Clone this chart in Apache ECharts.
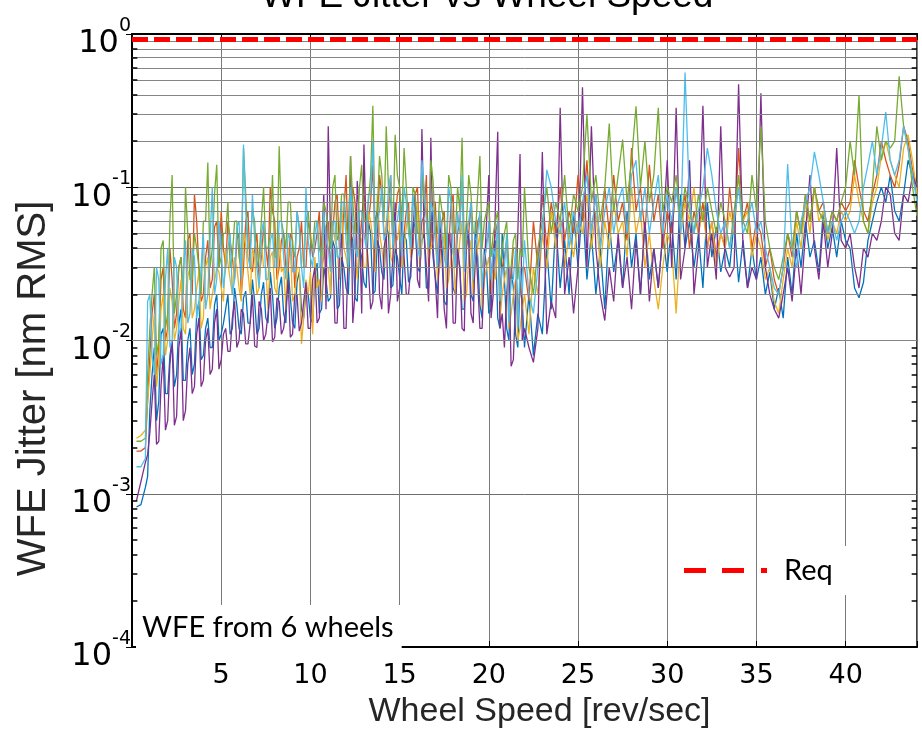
<!DOCTYPE html>
<html>
<head>
<meta charset="utf-8">
<title>WFE Jitter vs Wheel Speed</title>
<script src="https://cdn.jsdelivr.net/npm/echarts@6/dist/echarts.min.js"></script>
<style>
html, body { margin: 0; padding: 0; background: #fff; }
#main { width: 922px; height: 734px; }
</style>
</head>
<body>
<div id="main"></div>
<script>
// wheel speed grid [rev/sec], one sample every 0.25 rev/sec
var speedStep = 0.25;
var speeds = [];
for (var i = 1; i <= 176; i++) speeds.push(i * speedStep);
// extra in-between samples where the curves are densest (0.875 .. 21.875)
var midSpeeds = [];
for (var k = 0; k < 85; k++) midSpeeds.push(0.875 + k * speedStep);

// WFE jitter [nm RMS] per wheel on the main grid
var wheel1 = [ // blue
	0.00082, 0.00085, 0.0011, 0.0035, 0.009, 0.004, 0.012, 0.0045, 0.01, 0.006,
	0.016, 0.0055, 0.012, 0.007, 0.018, 0.008, 0.014, 0.009, 0.02, 0.011,
	0.016, 0.011, 0.022, 0.012, 0.019, 0.013, 0.025, 0.011, 0.02, 0.014,
	0.028, 0.012, 0.022, 0.015, 0.03, 0.013, 0.024, 0.016, 0.021, 0.014,
	0.026, 0.015, 0.03, 0.018, 0.045, 0.016, 0.035, 0.022, 0.05, 0.019,
	0.04, 0.024, 0.06, 0.02, 0.045, 0.028, 0.055, 0.022, 0.04, 0.026,
	0.05, 0.024, 0.06, 0.03, 0.045, 0.022, 0.07, 0.026, 0.04, 0.018,
	0.05, 0.022, 0.035, 0.016, 0.045, 0.02, 0.06, 0.017, 0.04, 0.015,
	0.035, 0.014, 0.05, 0.012, 0.03, 0.011, 0.025, 0.009, 0.02, 0.008,
	0.015, 0.011, 0.04, 0.016, 0.06, 0.022, 0.045, 0.02, 0.07, 0.03,
	0.08, 0.025, 0.05, 0.02, 0.04, 0.016, 0.06, 0.028, 0.045, 0.022,
	0.07, 0.03, 0.05, 0.02, 0.06, 0.025, 0.04, 0.022, 0.05, 0.028,
	0.06, 0.025, 0.09, 0.04, 0.06, 0.03, 0.05, 0.022, 0.08, 0.035,
	0.055, 0.028, 0.04, 0.03, 0.06, 0.024, 0.045, 0.022, 0.04, 0.025,
	0.035, 0.02, 0.028, 0.016, 0.022, 0.014, 0.035, 0.02, 0.05, 0.03,
	0.06, 0.035, 0.045, 0.028, 0.07, 0.04, 0.055, 0.035, 0.06, 0.045,
	0.04, 0.022, 0.019, 0.024, 0.045, 0.06, 0.08, 0.1, 0.08, 0.12,
	0.07, 0.06, 0.09, 0.15, 0.12, 0.09
];
var wheel2 = [ // orange
	0.0019, 0.0019, 0.002, 0.008, 0.02, 0.009, 0.03, 0.012, 0.025, 0.015,
	0.035, 0.014, 0.05, 0.09, 0.03, 0.02, 0.045, 0.025, 0.06, 0.07,
	0.03, 0.045, 0.025, 0.05, 0.03, 0.07, 0.028, 0.05, 0.035, 0.04,
	0.1, 0.06, 0.03, 0.05, 0.028, 0.045, 0.035, 0.06, 0.03, 0.05,
	0.04, 0.07, 0.035, 0.06, 0.05, 0.09, 0.04, 0.12, 0.05, 0.08,
	0.04, 0.1, 0.06, 0.14, 0.05, 0.09, 0.045, 0.12, 0.06, 0.1,
	0.05, 0.08, 0.04, 0.1, 0.06, 0.12, 0.045, 0.08, 0.035, 0.07,
	0.04, 0.09, 0.05, 0.11, 0.04, 0.08, 0.035, 0.065, 0.03, 0.05,
	0.04, 0.06, 0.03, 0.045, 0.025, 0.04, 0.02, 0.03, 0.018, 0.06,
	0.03, 0.09, 0.04, 0.08, 0.05, 0.1, 0.045, 0.07, 0.05, 0.12,
	0.06, 0.15, 0.05, 0.09, 0.04, 0.1, 0.05, 0.12, 0.06, 0.08,
	0.045, 0.18, 0.07, 0.1, 0.05, 0.14, 0.06, 0.09, 0.04, 0.07,
	0.05, 0.1, 0.06, 0.09, 0.04, 0.07, 0.05, 0.08, 0.04, 0.06,
	0.035, 0.05, 0.04, 0.1, 0.05, 0.18, 0.06, 0.08, 0.04, 0.06,
	0.05, 0.03, 0.04, 0.025, 0.02, 0.03, 0.05, 0.035, 0.07, 0.05,
	0.09, 0.06, 0.1, 0.07, 0.08, 0.05, 0.07, 0.06, 0.08, 0.07,
	0.08, 0.15, 0.1, 0.07, 0.06, 0.09, 0.12, 0.2, 0.15, 0.12,
	0.1, 0.14, 0.25, 0.2, 0.13, 0.1
];
var wheel3 = [ // yellow
	0.0023, 0.0024, 0.0026, 0.006, 0.015, 0.007, 0.02, 0.01, 0.018, 0.012,
	0.025, 0.011, 0.03, 0.016, 0.028, 0.014, 0.035, 0.02, 0.03, 0.022,
	0.04, 0.025, 0.035, 0.022, 0.05, 0.028, 0.04, 0.02, 0.045, 0.03,
	0.035, 0.022, 0.05, 0.03, 0.04, 0.018, 0.03, 0.0095, 0.025, 0.028,
	0.035, 0.025, 0.05, 0.03, 0.06, 0.04, 0.08, 0.035, 0.06, 0.04,
	0.05, 0.03, 0.07, 0.045, 0.09, 0.04, 0.06, 0.035, 0.05, 0.06,
	0.04, 0.07, 0.05, 0.08, 0.045, 0.06, 0.04, 0.055, 0.03, 0.05,
	0.025, 0.04, 0.03, 0.06, 0.02, 0.045, 0.03, 0.05, 0.025, 0.035,
	0.03, 0.045, 0.02, 0.03, 0.015, 0.025, 0.012, 0.02, 0.011, 0.03,
	0.02, 0.05, 0.03, 0.07, 0.04, 0.06, 0.03, 0.05, 0.035, 0.06,
	0.05, 0.09, 0.04, 0.07, 0.03, 0.06, 0.04, 0.08, 0.05, 0.06,
	0.035, 0.1, 0.05, 0.07, 0.03, 0.05, 0.025, 0.016, 0.03, 0.05,
	0.04, 0.015, 0.05, 0.08, 0.06, 0.1, 0.05, 0.07, 0.04, 0.06,
	0.03, 0.05, 0.04, 0.07, 0.05, 0.12, 0.06, 0.07, 0.035, 0.05,
	0.04, 0.025, 0.03, 0.018, 0.015, 0.025, 0.04, 0.03, 0.06, 0.04,
	0.08, 0.05, 0.1, 0.06, 0.07, 0.045, 0.06, 0.05, 0.07, 0.06,
	0.07, 0.12, 0.08, 0.06, 0.05, 0.08, 0.1, 0.16, 0.2, 0.15,
	0.12, 0.1, 0.18, 0.22, 0.15, 0.09
];
var wheel4 = [ // purple
	0.0009, 0.0012, 0.0016, 0.0025, 0.006, 0.0022, 0.008, 0.003, 0.01, 0.0032,
	0.012, 0.0035, 0.009, 0.005, 0.014, 0.0055, 0.012, 0.0065, 0.016, 0.0075,
	0.012, 0.0085, 0.018, 0.01, 0.015, 0.0095, 0.02, 0.009, 0.016, 0.011,
	0.022, 0.0105, 0.018, 0.012, 0.025, 0.011, 0.02, 0.013, 0.024, 0.012,
	0.03, 0.014, 0.09, 0.25, 0.04, 0.013, 0.05, 0.012, 0.16, 0.02,
	0.06, 0.19, 0.03, 0.018, 0.07, 0.016, 0.05, 0.02, 0.08, 0.022,
	0.035, 0.02, 0.05, 0.025, 0.24, 0.03, 0.21, 0.025, 0.06, 0.016,
	0.05, 0.013, 0.04, 0.012, 0.06, 0.015, 0.045, 0.012, 0.03, 0.12,
	0.02, 0.23, 0.015, 0.02, 0.0068, 0.018, 0.165, 0.012, 0.009, 0.0072,
	0.012, 0.17, 0.011, 0.018, 0.014, 0.33, 0.02, 0.035, 0.015, 0.03,
	0.45, 0.03, 0.25, 0.04, 0.02, 0.0135, 0.03, 0.018, 0.05, 0.022,
	0.035, 0.016, 0.045, 0.02, 0.06, 0.018, 0.04, 0.022, 0.05, 0.15,
	0.03, 0.33, 0.025, 0.04, 0.15, 0.02, 0.04, 0.34, 0.03, 0.05,
	0.025, 0.25, 0.03, 0.026, 0.03, 0.47, 0.04, 0.022, 0.03, 0.025,
	0.41, 0.03, 0.02, 0.016, 0.014, 0.02, 0.03, 0.018, 0.04, 0.02,
	0.05, 0.12, 0.04, 0.025, 0.06, 0.03, 0.05, 0.18, 0.045, 0.04,
	0.05, 0.03, 0.022, 0.04, 0.035, 0.05, 0.045, 0.06, 0.1, 0.09,
	0.05, 0.045, 0.09, 0.08, 0.12, 0.1
];
var wheel5 = [ // green
	0.0022, 0.0022, 0.0023, 0.012, 0.03, 0.01, 0.045, 0.015, 0.12, 0.02,
	0.035, 0.1, 0.025, 0.05, 0.03, 0.06, 0.145, 0.04, 0.14, 0.035,
	0.05, 0.03, 0.06, 0.035, 0.18, 0.04, 0.07, 0.03, 0.06, 0.04,
	0.05, 0.035, 0.185, 0.05, 0.08, 0.04, 0.07, 0.03, 0.06, 0.045,
	0.06, 0.04, 0.08, 0.05, 0.1, 0.045, 0.09, 0.06, 0.16, 0.05,
	0.1, 0.06, 0.08, 0.34, 0.07, 0.12, 0.25, 0.08, 0.22, 0.1,
	0.18, 0.06, 0.1, 0.05, 0.12, 0.07, 0.15, 0.05, 0.09, 0.06,
	0.12, 0.05, 0.1, 0.21, 0.06, 0.09, 0.05, 0.16, 0.06, 0.08,
	0.05, 0.07, 0.04, 0.06, 0.03, 0.05, 0.04, 0.1, 0.03, 0.02,
	0.04, 0.06, 0.1, 0.05, 0.08, 0.06, 0.12, 0.05, 0.09, 0.07,
	0.1, 0.3, 0.08, 0.12, 0.06, 0.1, 0.26, 0.07, 0.12, 0.205,
	0.08, 0.15, 0.337, 0.1, 0.2, 0.08, 0.12, 0.33, 0.07, 0.1,
	0.08, 0.12, 0.06, 0.1, 0.07, 0.05, 0.09, 0.06, 0.1, 0.07,
	0.05, 0.08, 0.06, 0.04, 0.07, 0.12, 0.06, 0.05, 0.12, 0.07,
	0.25, 0.06, 0.04, 0.03, 0.025, 0.035, 0.05, 0.04, 0.07, 0.05,
	0.09, 0.06, 0.1, 0.07, 0.06, 0.05, 0.07, 0.06, 0.08, 0.1,
	0.2, 0.12, 0.4, 0.06, 0.05, 0.1, 0.25, 0.15, 0.2, 0.18,
	0.2, 0.53, 0.25, 0.18, 0.1, 0.065
];
var wheel6 = [ // cyan
	0.0015, 0.0015, 0.0017, 0.02, 0.006, 0.025, 0.008, 0.04, 0.01, 0.03,
	0.012, 0.045, 0.015, 0.035, 0.018, 0.05, 0.02, 0.1, 0.025, 0.04,
	0.03, 0.05, 0.025, 0.06, 0.19, 0.035, 0.09, 0.03, 0.05, 0.025,
	0.045, 0.03, 0.06, 0.035, 0.05, 0.028, 0.07, 0.03, 0.1, 0.035,
	0.05, 0.03, 0.07, 0.04, 0.06, 0.035, 0.08, 0.045, 0.1, 0.04,
	0.07, 0.05, 0.09, 0.2, 0.06, 0.1, 0.05, 0.12, 0.06, 0.08,
	0.1, 0.05, 0.09, 0.04, 0.15, 0.06, 0.08, 0.045, 0.07, 0.035,
	0.1, 0.04, 0.07, 0.12, 0.05, 0.08, 0.04, 0.07, 0.035, 0.06,
	0.04, 0.06, 0.03, 0.05, 0.025, 0.04, 0.03, 0.045, 0.02, 0.015,
	0.03, 0.05, 0.13, 0.1, 0.06, 0.05, 0.08, 0.04, 0.07, 0.05,
	0.08, 0.12, 0.05, 0.09, 0.04, 0.07, 0.1, 0.05, 0.08, 0.1,
	0.05, 0.12, 0.15, 0.06, 0.1, 0.05, 0.08, 0.12, 0.05, 0.09,
	0.06, 0.1, 0.05, 0.56, 0.08, 0.05, 0.07, 0.1, 0.18, 0.12,
	0.07, 0.05, 0.06, 0.04, 0.06, 0.1, 0.05, 0.06, 0.08, 0.05,
	0.06, 0.04, 0.03, 0.022, 0.02, 0.03, 0.142, 0.04, 0.03, 0.06,
	0.08, 0.1, 0.17, 0.12, 0.08, 0.05, 0.06, 0.045, 0.06, 0.07,
	0.06, 0.05, 0.06, 0.1, 0.14, 0.2, 0.12, 0.18, 0.31, 0.15,
	0.12, 0.15, 0.25, 0.18, 0.12, 0.08
];

// WFE jitter [nm RMS] on the in-between samples
var wheel1Mid = [
	0.0013, 0.006, 0.003, 0.011, 0.0045, 0.008, 0.005, 0.013, 0.0055, 0.01,
	0.006, 0.015, 0.0075, 0.012, 0.009, 0.017, 0.01, 0.013, 0.02, 0.012,
	0.017, 0.011, 0.021, 0.013, 0.018, 0.012, 0.024, 0.013, 0.02, 0.014,
	0.026, 0.013, 0.019, 0.012, 0.028, 0.014, 0.02, 0.013, 0.032, 0.016,
	0.025, 0.019, 0.04, 0.017, 0.03, 0.02, 0.045, 0.018, 0.035, 0.022,
	0.05, 0.021, 0.04, 0.025, 0.05, 0.023, 0.035, 0.02, 0.045, 0.026,
	0.055, 0.028, 0.05, 0.022, 0.035, 0.02, 0.045, 0.017, 0.04, 0.02,
	0.03, 0.016, 0.05, 0.018, 0.035, 0.014, 0.03, 0.016, 0.045, 0.012,
	0.025, 0.01, 0.022, 0.009, 0.018
];
var wheel2Mid = [
	0.004, 0.015, 0.006, 0.025, 0.01, 0.04, 0.012, 0.03, 0.016, 0.045,
	0.02, 0.06, 0.018, 0.035, 0.022, 0.055, 0.03, 0.04, 0.06, 0.035,
	0.045, 0.02, 0.06, 0.03, 0.04, 0.025, 0.055, 0.03, 0.07, 0.025,
	0.045, 0.03, 0.05, 0.022, 0.04, 0.03, 0.06, 0.035, 0.05, 0.03,
	0.055, 0.03, 0.08, 0.04, 0.07, 0.035, 0.1, 0.04, 0.06, 0.045,
	0.08, 0.04, 0.12, 0.05, 0.07, 0.04, 0.09, 0.05, 0.07, 0.035,
	0.09, 0.04, 0.065, 0.03, 0.08, 0.035, 0.06, 0.03, 0.075, 0.03,
	0.06, 0.035, 0.05, 0.025, 0.06, 0.03, 0.045, 0.025, 0.05, 0.02,
	0.035, 0.02, 0.04, 0.016, 0.03
];
var wheel3Mid = [
	0.004, 0.01, 0.005, 0.016, 0.008, 0.022, 0.01, 0.018, 0.012, 0.026,
	0.014, 0.022, 0.012, 0.03, 0.016, 0.024, 0.028, 0.018, 0.032, 0.02,
	0.03, 0.018, 0.042, 0.02, 0.035, 0.022, 0.03, 0.016, 0.038, 0.02,
	0.028, 0.016, 0.04, 0.02, 0.03, 0.014, 0.02, 0.011, 0.022, 0.018,
	0.03, 0.02, 0.045, 0.025, 0.04, 0.028, 0.055, 0.025, 0.045, 0.03,
	0.06, 0.028, 0.05, 0.03, 0.07, 0.032, 0.045, 0.03, 0.055, 0.035,
	0.05, 0.03, 0.06, 0.035, 0.045, 0.025, 0.04, 0.022, 0.035, 0.02,
	0.045, 0.018, 0.035, 0.02, 0.04, 0.016, 0.03, 0.02, 0.025, 0.014,
	0.025, 0.012, 0.02, 0.01, 0.016
];
var wheel4Mid = [
	0.0018, 0.004, 0.0021, 0.005, 0.0026, 0.007, 0.0028, 0.009, 0.003, 0.007,
	0.0045, 0.011, 0.005, 0.01, 0.006, 0.013, 0.0065, 0.011, 0.0085, 0.014,
	0.009, 0.016, 0.0095, 0.013, 0.0092, 0.018, 0.01, 0.015, 0.0098, 0.019,
	0.011, 0.016, 0.0105, 0.02, 0.0115, 0.018, 0.012, 0.025, 0.013, 0.04,
	0.016, 0.05, 0.013, 0.035, 0.012, 0.04, 0.013, 0.11, 0.015, 0.05,
	0.016, 0.06, 0.02, 0.04, 0.015, 0.035, 0.018, 0.06, 0.02, 0.03,
	0.09, 0.022, 0.05, 0.018, 0.04, 0.014, 0.035, 0.012, 0.05, 0.013,
	0.03, 0.0115, 0.045, 0.013, 0.025, 0.012, 0.06, 0.014, 0.08, 0.012,
	0.009, 0.03, 0.0075, 0.05, 0.01
];
var wheel5Mid = [
	0.006, 0.02, 0.008, 0.04, 0.012, 0.06, 0.015, 0.03, 0.02, 0.05,
	0.025, 0.04, 0.02, 0.06, 0.03, 0.09, 0.03, 0.05, 0.08, 0.035,
	0.06, 0.03, 0.09, 0.04, 0.06, 0.035, 0.1, 0.04, 0.12, 0.035,
	0.06, 0.04, 0.08, 0.035, 0.055, 0.03, 0.07, 0.04, 0.06, 0.035,
	0.07, 0.04, 0.12, 0.05, 0.09, 0.04, 0.08, 0.05, 0.14, 0.06,
	0.12, 0.05, 0.16, 0.06, 0.1, 0.05, 0.12, 0.06, 0.1, 0.045,
	0.09, 0.05, 0.08, 0.04, 0.11, 0.05, 0.07, 0.04, 0.1, 0.05,
	0.07, 0.04, 0.12, 0.05, 0.09, 0.04, 0.07, 0.035, 0.06, 0.03,
	0.05, 0.03, 0.045, 0.025, 0.035
];
var wheel6Mid = [
	0.018, 0.008, 0.03, 0.007, 0.025, 0.009, 0.035, 0.011, 0.028, 0.013,
	0.04, 0.014, 0.03, 0.016, 0.045, 0.02, 0.06, 0.022, 0.04, 0.02,
	0.055, 0.025, 0.07, 0.03, 0.045, 0.022, 0.06, 0.025, 0.05, 0.03,
	0.06, 0.025, 0.045, 0.028, 0.055, 0.022, 0.045, 0.03, 0.06, 0.03,
	0.045, 0.028, 0.06, 0.035, 0.08, 0.03, 0.06, 0.035, 0.07, 0.04,
	0.09, 0.04, 0.07, 0.045, 0.1, 0.04, 0.06, 0.035, 0.08, 0.04,
	0.06, 0.035, 0.1, 0.04, 0.07, 0.03, 0.05, 0.03, 0.08, 0.03,
	0.05, 0.028, 0.06, 0.025, 0.05, 0.022, 0.04, 0.025, 0.035, 0.018,
	0.03, 0.013, 0.025, 0.012, 0.02
];

var wheelData = [wheel1, wheel2, wheel3, wheel4, wheel5, wheel6];
var wheelMid = [wheel1Mid, wheel2Mid, wheel3Mid, wheel4Mid, wheel5Mid, wheel6Mid];
var wheelColors = ['#0072BD', '#D95319', '#EDB120', '#7E2F8E', '#77AC30', '#4DBEEE'];

// requirement level [nm RMS]
var reqLevel = 0.92;

// axis ranges
var speedMin = 0, speedMax = 44, speedTick = 5;
var jitterMin = 1e-4, jitterMax = 1;

// minor log grid levels 2..9 x 10^k
var minorLevels = [];
for (var q = -4; q < 0; q++) {
	for (var m = 2; m <= 9; m++) minorLevels.push(+(m * Math.pow(10, q)).toPrecision(2));
}

var myChart = echarts.init(document.getElementById('main'));

var series = [];
for (var s = 0; s < wheelData.length; s++) {
	var pts = [];
	for (var j = 0; j < speeds.length; j++) pts.push([speeds[j], wheelData[s][j]]);
	for (var n = 0; n < midSpeeds.length; n++) pts.push([midSpeeds[n], wheelMid[s][n]]);
	pts.sort(function (a, b) { return a[0] - b[0]; });
	series.push({
		name: 'Wheel ' + (s + 1),
		type: 'line',
		data: pts,
		showSymbol: false,
		symbol: 'none',
		color: wheelColors[s],
		lineStyle: {width: 1.3, color: wheelColors[s]},
		z: 3,
		silent: true
	});
}

// minor horizontal grid lines
series.push({
	name: 'minor',
	type: 'line',
	data: [],
	silent: true,
	z: 1,
	markLine: {
		silent: true,
		symbol: 'none',
		label: {show: false},
		lineStyle: {color: '#858585', width: 1, type: 'solid'},
		data: minorLevels.map(function (v) { return {yAxis: v}; }),
		animation: false
	}
});

// minor tick marks on left and right frame
var tickLen = 0.3;
var tickSegs = [];
minorLevels.forEach(function (v) {
	tickSegs.push([{coord: [speedMin, v]}, {coord: [speedMin + tickLen, v]}]);
	tickSegs.push([{coord: [speedMax - tickLen, v]}, {coord: [speedMax, v]}]);
});
series.push({
	name: 'ticks',
	type: 'line',
	data: [],
	silent: true,
	z: 7,
	markLine: {
		silent: true,
		symbol: 'none',
		label: {show: false},
		lineStyle: {color: '#000', width: 1.5, type: 'solid'},
		data: tickSegs,
		animation: false
	}
});

series.push({
	name: 'Req',
	type: 'line',
	data: [[speedMin, reqLevel], [speedMax, reqLevel]],
	showSymbol: false,
	symbol: 'none',
	color: '#ff0000',
	lineStyle: {width: 5, color: '#ff0000', type: [16, 6]},
	z: 6,
	silent: true
});

var labelFont = '"Liberation Sans", Arial, sans-serif';
var tickFont = '"DejaVu Sans", sans-serif';

var option = {
	animation: false,
	backgroundColor: '#fff',
	title: {
		text: 'WFE Jitter vs Wheel Speed',
		left: 256,
		top: -27,
		textStyle: {fontFamily: labelFont, fontSize: 37, fontWeight: 'normal', color: '#000'}
	},
	legend: {
		data: ['Req'],
		icon: 'path://M0,0h22v5h-22zM38,0h22v5h-22zM77,0h6v5h-6z',
		left: 679,
		top: 541,
		itemWidth: 83,
		itemHeight: 5,
		itemGap: 0,
		textStyle: {
			fontFamily: 'Lato, "Open Sans", sans-serif',
			fontSize: 29,
			color: '#000',
			backgroundColor: '#fff',
			padding: [10, 22, 10, 12]
		}
	},
	grid: {left: 132, right: 5, top: 34, bottom: 82, show: true, borderColor: '#000', borderWidth: 1.5},
	xAxis: [{
		type: 'value',
		min: speedMin,
		max: speedMax,
		interval: speedTick,
		name: 'Wheel Speed [rev/sec]',
		nameLocation: 'middle',
		nameGap: 48,
		nameTextStyle: {fontFamily: labelFont, fontSize: 34, color: '#262626', padding: [0, 0, 0, 30]},
		axisLine: {lineStyle: {color: '#000', width: 2}},
		axisTick: {inside: true, length: 6, lineStyle: {color: '#000'}},
		axisLabel: {
			fontFamily: tickFont, fontSize: 27, color: '#000', margin: 15,
			formatter: function (v) { return (v > 0 && v % speedTick === 0) ? String(v) : ''; }
		},
		splitLine: {show: true, lineStyle: {color: '#7a7a7a', width: 1}}
	}, {
		type: 'value',
		position: 'top',
		min: speedMin,
		max: speedMax,
		interval: speedTick,
		axisLine: {lineStyle: {color: '#000', width: 2}},
		axisTick: {inside: true, length: 6, lineStyle: {color: '#000'}},
		axisLabel: {show: false},
		splitLine: {show: false}
	}],
	yAxis: [{
		type: 'log',
		logBase: 10,
		min: jitterMin,
		max: jitterMax,
		name: 'WFE Jitter [nm RMS]',
		nameLocation: 'middle',
		nameGap: 78,
		nameTextStyle: {fontFamily: labelFont, fontSize: 40, color: '#262626', padding: [0, 96, 0, 0]},
		axisLine: {lineStyle: {color: '#000', width: 2}},
		axisTick: {inside: true, length: 6, lineStyle: {color: '#000'}},
		axisLabel: {
			margin: 1,
			formatter: function (v) {
				var e = Math.round(Math.log(v) / Math.LN10);
				// spacer line on top pushes the block down a little;
				// exponent on its own raised line, hidden copy keeps "10" left of it
				return '{t| }\n{e|' + e + '}\n{b|10}{h|' + e + '}';
			},
			rich: {
				t: {fontSize: 8, lineHeight: 10},
				b: {fontFamily: tickFont, fontSize: 32, color: '#000', lineHeight: 26},
				e: {fontFamily: tickFont, fontSize: 19, color: '#000', lineHeight: 10},
				h: {fontFamily: tickFont, fontSize: 19, color: 'rgba(0,0,0,0)', lineHeight: 26}
			}
		},
		splitLine: {show: true, lineStyle: {color: '#6e6e6e', width: 1}}
	}, {
		type: 'log',
		logBase: 10,
		min: jitterMin,
		max: jitterMax,
		position: 'right',
		axisLine: {lineStyle: {color: '#000', width: 2}},
		axisTick: {inside: true, length: 6, lineStyle: {color: '#000'}},
		axisLabel: {show: false},
		splitLine: {show: false}
	}],
	graphic: [{
		type: 'text',
		left: 136,
		top: 605,
		z: 10,
		style: {
			text: 'WFE from 6 wheels',
			font: '29px Lato, "Open Sans", sans-serif',
			fill: '#000',
			backgroundColor: '#fff',
			padding: [8, 8, 8, 6]
		}
	}],
	series: series
};
myChart.setOption(option);
</script>
</body>
</html>
